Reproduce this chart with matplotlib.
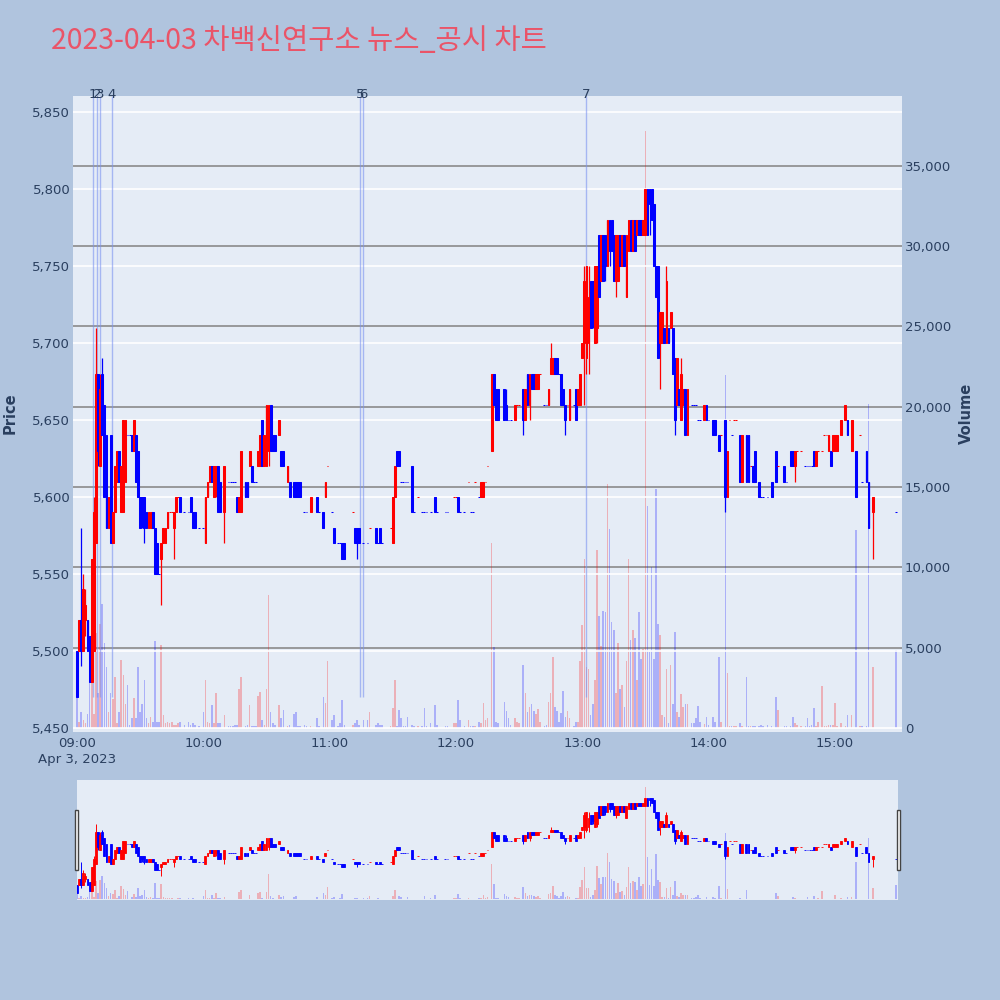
import numpy as np
import matplotlib.pyplot as plt
from matplotlib.patches import Rectangle

plt.rcParams['font.family'] = ['DejaVu Sans']

TITLE = "2023-04-03 차백신연구소 뉴스_공시 차트"

# minutes after 09:00, one candle per traded minute
minute = [
    0, 1, 2, 3, 4, 5, 6, 7, 8, 9,
    10, 11, 12, 13, 14, 15, 16, 17, 18, 19,
    20, 21, 22, 23, 24, 25, 26, 27, 28, 29,
    30, 31, 32, 33, 34, 35, 36, 37, 38, 39,
    40, 41, 42, 43, 44, 45, 46, 47, 48, 49,
    51, 53, 54, 55, 56, 58, 60, 61, 62, 63,
    64, 65, 66, 67, 68, 70, 72, 73, 74, 75,
    76, 77, 78, 80, 81, 82, 83, 84, 85, 86,
    87, 88, 89, 90, 91, 92, 93, 94, 96, 97,
    98, 100, 101, 103, 104, 105, 106, 108, 109, 111,
    114, 115, 117, 118, 119, 121, 122, 124, 125, 126,
    127, 131, 132, 133, 134, 136, 138, 139, 142, 143,
    144, 145, 149, 150, 151, 152, 153, 154, 155, 156,
    157, 159, 160, 162, 164, 165, 166, 168, 170, 171,
    175, 176, 179, 180, 181, 182, 184, 186, 187, 188,
    189, 191, 192, 193, 194, 195, 197, 198, 199, 200,
    203, 204, 205, 206, 208, 209, 210, 212, 213, 214,
    215, 216, 217, 218, 219, 220, 222, 223, 224, 225,
    226, 227, 228, 229, 230, 231, 232, 233, 234, 236,
    237, 238, 239, 240, 241, 242, 243, 244, 245, 246,
    247, 248, 249, 250, 251, 252, 253, 254, 255, 256,
    257, 258, 259, 260, 261, 262, 263, 264, 265, 266,
    267, 268, 269, 270, 271, 272, 273, 274, 275, 276,
    277, 278, 279, 280, 281, 282, 283, 284, 285, 286,
    287, 288, 289, 290, 292, 293, 294, 295, 296, 298,
    299, 300, 302, 303, 305, 306, 308, 309, 310, 311,
    312, 313, 315, 316, 318, 319, 320, 321, 322, 324,
    325, 326, 328, 330, 332, 333, 336, 337, 339, 340,
    341, 342, 344, 346, 347, 348, 349, 350, 351, 352,
    354, 355, 356, 357, 358, 359, 360, 361, 363, 365,
    366, 368, 370, 372, 373, 375, 376, 378, 389,
]

open_ = [
    5500, 5500, 5520, 5500, 5520, 5520, 5510, 5480, 5500, 5570,
    5680, 5620, 5680, 5660, 5640, 5580, 5640, 5570, 5590, 5610,
    5630, 5590, 5590, 5610, 5640, 5640, 5640, 5630, 5640, 5630,
    5600, 5600, 5600, 5590, 5580, 5580, 5590, 5580, 5570, 5550,
    5560, 5570, 5570, 5580, 5590, 5590, 5580, 5590, 5600, 5600,
    5590, 5590, 5600, 5590, 5590, 5580, 5580, 5570, 5600, 5610,
    5620, 5600, 5610, 5620, 5610, 5590, 5610, 5610, 5610, 5610,
    5600, 5590, 5590, 5610, 5610, 5620, 5620, 5610, 5610, 5620,
    5620, 5650, 5620, 5620, 5630, 5660, 5640, 5640, 5640, 5630,
    5630, 5610, 5610, 5610, 5610, 5610, 5610, 5590, 5590, 5590,
    5600, 5590, 5590, 5600, 5620, 5590, 5580, 5570, 5570, 5570,
    5570, 5590, 5580, 5580, 5580, 5570, 5570, 5580, 5580, 5570,
    5580, 5570, 5580, 5570, 5600, 5630, 5630, 5610, 5610, 5610,
    5610, 5620, 5590, 5600, 5590, 5590, 5590, 5590, 5600, 5590,
    5590, 5590, 5600, 5600, 5600, 5590, 5590, 5610, 5590, 5590,
    5610, 5600, 5600, 5600, 5610, 5620, 5630, 5680, 5670, 5670,
    5670, 5660, 5650, 5650, 5650, 5660, 5660, 5670, 5650, 5680,
    5660, 5680, 5680, 5670, 5670, 5680, 5660, 5660, 5660, 5680,
    5680, 5690, 5690, 5680, 5680, 5670, 5660, 5660, 5650, 5660,
    5670, 5660, 5660, 5690, 5700, 5690, 5700, 5740, 5740, 5700,
    5710, 5770, 5740, 5770, 5770, 5750, 5780, 5780, 5770, 5740,
    5740, 5770, 5750, 5770, 5730, 5760, 5780, 5760, 5780, 5770,
    5780, 5780, 5770, 5770, 5800, 5800, 5800, 5790, 5750, 5750,
    5700, 5700, 5710, 5700, 5710, 5710, 5710, 5690, 5660, 5670,
    5650, 5660, 5670, 5640, 5660, 5660, 5660, 5650, 5650, 5650,
    5660, 5650, 5650, 5650, 5640, 5640, 5650, 5600, 5650, 5640,
    5650, 5650, 5640, 5610, 5640, 5640, 5620, 5620, 5630, 5610,
    5600, 5600, 5600, 5610, 5630, 5620, 5620, 5610, 5630, 5630,
    5620, 5630, 5630, 5620, 5620, 5620, 5620, 5630, 5620, 5630,
    5630, 5640, 5640, 5630, 5630, 5630, 5630, 5630, 5640, 5650,
    5650, 5630, 5630, 5640, 5610, 5630, 5610, 5590, 5590,
]

high = [
    5500, 5520, 5580, 5550, 5540, 5520, 5510, 5560, 5600, 5710,
    5680, 5680, 5690, 5660, 5640, 5600, 5640, 5590, 5620, 5630,
    5630, 5620, 5650, 5650, 5640, 5640, 5640, 5650, 5640, 5630,
    5600, 5600, 5600, 5590, 5590, 5590, 5590, 5580, 5570, 5550,
    5570, 5580, 5580, 5590, 5590, 5590, 5590, 5600, 5600, 5600,
    5590, 5590, 5600, 5590, 5590, 5580, 5580, 5600, 5610, 5620,
    5620, 5620, 5620, 5620, 5610, 5620, 5610, 5610, 5610, 5610,
    5600, 5600, 5630, 5610, 5610, 5630, 5620, 5610, 5610, 5630,
    5640, 5650, 5640, 5660, 5660, 5660, 5640, 5640, 5650, 5630,
    5630, 5620, 5610, 5610, 5610, 5610, 5610, 5590, 5590, 5600,
    5600, 5590, 5590, 5610, 5620, 5590, 5580, 5570, 5570, 5570,
    5570, 5590, 5580, 5580, 5580, 5570, 5570, 5580, 5580, 5570,
    5580, 5570, 5580, 5600, 5620, 5630, 5630, 5610, 5610, 5610,
    5610, 5620, 5590, 5600, 5590, 5590, 5590, 5590, 5600, 5590,
    5590, 5590, 5600, 5600, 5600, 5590, 5590, 5610, 5590, 5590,
    5610, 5600, 5610, 5610, 5610, 5620, 5680, 5680, 5670, 5670,
    5670, 5670, 5650, 5650, 5660, 5660, 5660, 5670, 5670, 5680,
    5680, 5680, 5680, 5680, 5680, 5680, 5660, 5660, 5670, 5700,
    5690, 5690, 5690, 5680, 5680, 5670, 5660, 5660, 5670, 5660,
    5670, 5670, 5680, 5700, 5750, 5750, 5750, 5740, 5740, 5750,
    5750, 5770, 5770, 5770, 5770, 5780, 5780, 5780, 5770, 5770,
    5770, 5770, 5770, 5770, 5770, 5780, 5780, 5780, 5780, 5780,
    5780, 5780, 5780, 5800, 5800, 5800, 5800, 5790, 5750, 5750,
    5720, 5720, 5710, 5750, 5710, 5720, 5710, 5690, 5690, 5670,
    5690, 5670, 5670, 5670, 5660, 5660, 5660, 5650, 5650, 5660,
    5660, 5650, 5650, 5650, 5640, 5640, 5650, 5630, 5650, 5640,
    5650, 5650, 5640, 5640, 5640, 5640, 5620, 5620, 5630, 5610,
    5600, 5600, 5600, 5610, 5630, 5620, 5620, 5610, 5630, 5630,
    5630, 5630, 5630, 5620, 5620, 5620, 5620, 5630, 5630, 5630,
    5630, 5640, 5640, 5640, 5630, 5640, 5640, 5640, 5650, 5660,
    5650, 5650, 5630, 5640, 5610, 5630, 5610, 5600, 5590,
]

low = [
    5470, 5500, 5490, 5500, 5510, 5500, 5480, 5480, 5500, 5570,
    5620, 5620, 5640, 5600, 5580, 5580, 5570, 5570, 5590, 5610,
    5610, 5590, 5590, 5610, 5640, 5640, 5630, 5630, 5610, 5600,
    5580, 5580, 5570, 5580, 5580, 5580, 5580, 5550, 5550, 5550,
    5530, 5570, 5570, 5580, 5590, 5590, 5560, 5590, 5600, 5590,
    5590, 5590, 5590, 5580, 5580, 5580, 5580, 5570, 5600, 5610,
    5610, 5600, 5600, 5590, 5590, 5570, 5610, 5610, 5610, 5610,
    5590, 5590, 5590, 5600, 5600, 5620, 5610, 5610, 5610, 5620,
    5620, 5620, 5620, 5620, 5620, 5630, 5630, 5630, 5640, 5620,
    5620, 5610, 5600, 5600, 5600, 5600, 5600, 5590, 5590, 5590,
    5590, 5590, 5580, 5600, 5620, 5590, 5570, 5570, 5570, 5560,
    5560, 5590, 5570, 5560, 5570, 5570, 5570, 5580, 5570, 5570,
    5570, 5570, 5580, 5570, 5600, 5620, 5620, 5610, 5610, 5610,
    5610, 5590, 5590, 5600, 5590, 5590, 5590, 5590, 5590, 5590,
    5590, 5590, 5600, 5600, 5590, 5590, 5590, 5610, 5590, 5590,
    5610, 5600, 5600, 5600, 5610, 5620, 5630, 5660, 5650, 5650,
    5650, 5650, 5650, 5650, 5650, 5660, 5660, 5640, 5650, 5660,
    5650, 5670, 5670, 5670, 5670, 5680, 5660, 5660, 5660, 5680,
    5680, 5680, 5680, 5680, 5660, 5660, 5640, 5660, 5650, 5660,
    5650, 5660, 5660, 5690, 5660, 5680, 5680, 5710, 5710, 5700,
    5700, 5730, 5740, 5740, 5740, 5750, 5750, 5760, 5740, 5730,
    5740, 5750, 5750, 5750, 5730, 5760, 5760, 5760, 5760, 5770,
    5770, 5770, 5770, 5770, 5770, 5770, 5780, 5750, 5730, 5690,
    5670, 5700, 5700, 5700, 5700, 5710, 5680, 5640, 5660, 5660,
    5650, 5660, 5640, 5640, 5660, 5660, 5660, 5650, 5650, 5650,
    5650, 5650, 5640, 5640, 5630, 5640, 5590, 5600, 5650, 5640,
    5650, 5650, 5610, 5610, 5610, 5610, 5620, 5610, 5610, 5600,
    5600, 5600, 5600, 5600, 5610, 5620, 5610, 5610, 5620, 5620,
    5610, 5630, 5630, 5620, 5620, 5620, 5620, 5620, 5620, 5630,
    5630, 5640, 5640, 5630, 5620, 5630, 5630, 5630, 5640, 5650,
    5640, 5630, 5600, 5640, 5610, 5610, 5580, 5560, 5590,
]

close = [
    5470, 5520, 5500, 5540, 5530, 5500, 5480, 5560, 5590, 5680,
    5630, 5670, 5640, 5600, 5580, 5600, 5570, 5590, 5620, 5630,
    5610, 5620, 5650, 5650, 5640, 5640, 5630, 5650, 5610, 5600,
    5580, 5590, 5580, 5580, 5590, 5590, 5580, 5550, 5550, 5550,
    5570, 5580, 5580, 5590, 5590, 5590, 5590, 5600, 5600, 5590,
    5590, 5590, 5590, 5580, 5580, 5580, 5580, 5600, 5610, 5620,
    5610, 5620, 5620, 5590, 5590, 5620, 5610, 5610, 5610, 5610,
    5590, 5600, 5630, 5600, 5600, 5630, 5610, 5610, 5610, 5630,
    5640, 5620, 5640, 5660, 5660, 5630, 5630, 5630, 5650, 5620,
    5620, 5620, 5600, 5600, 5600, 5600, 5600, 5590, 5590, 5600,
    5590, 5590, 5580, 5610, 5620, 5590, 5570, 5570, 5570, 5560,
    5560, 5590, 5570, 5570, 5570, 5570, 5570, 5580, 5570, 5570,
    5570, 5570, 5580, 5600, 5620, 5620, 5620, 5610, 5610, 5610,
    5610, 5590, 5590, 5600, 5590, 5590, 5590, 5590, 5590, 5590,
    5590, 5590, 5600, 5600, 5590, 5590, 5590, 5610, 5590, 5590,
    5610, 5600, 5610, 5610, 5610, 5620, 5680, 5660, 5650, 5650,
    5650, 5650, 5650, 5650, 5660, 5660, 5660, 5650, 5670, 5660,
    5680, 5670, 5670, 5680, 5680, 5680, 5660, 5660, 5670, 5690,
    5690, 5680, 5680, 5680, 5660, 5660, 5650, 5660, 5670, 5660,
    5650, 5670, 5680, 5700, 5740, 5750, 5730, 5710, 5720, 5750,
    5750, 5730, 5770, 5740, 5750, 5780, 5760, 5760, 5740, 5770,
    5770, 5750, 5770, 5750, 5770, 5780, 5760, 5780, 5760, 5780,
    5770, 5770, 5780, 5800, 5770, 5790, 5780, 5750, 5730, 5690,
    5720, 5720, 5700, 5740, 5700, 5720, 5680, 5650, 5690, 5660,
    5680, 5670, 5640, 5670, 5660, 5660, 5660, 5650, 5650, 5660,
    5650, 5650, 5640, 5640, 5630, 5640, 5600, 5630, 5650, 5640,
    5650, 5650, 5610, 5640, 5610, 5610, 5620, 5610, 5610, 5600,
    5600, 5600, 5600, 5600, 5610, 5620, 5610, 5610, 5620, 5620,
    5630, 5630, 5630, 5620, 5620, 5620, 5620, 5620, 5630, 5630,
    5630, 5640, 5640, 5640, 5620, 5640, 5640, 5640, 5650, 5660,
    5640, 5650, 5600, 5640, 5610, 5610, 5580, 5600, 5590,
]

volume = [
    1850, 400, 1000, 500, 300, 900, 2800, 2800, 900, 5900,
    2150, 6500, 7700, 5300, 3800, 1000, 2150, 1800, 3200, 300,
    1000, 4250, 3300, 1500, 2700, 200, 600, 1850, 600, 3800,
    1000, 1500, 3000, 600, 300, 700, 400, 5400, 400, 400,
    5150, 800, 300, 400, 300, 400, 200, 200, 300, 400,
    200, 400, 200, 300, 200, 100, 1000, 3000, 400, 300,
    1450, 300, 2150, 300, 300, 800, 100, 100, 100, 200,
    200, 2400, 3200, 100, 200, 1450, 100, 100, 100, 2000,
    2250, 500, 200, 2450, 8300, 1000, 300, 200, 1450, 600,
    1100, 100, 200, 900, 1000, 100, 100, 200, 100, 100,
    600, 100, 1950, 1550, 4150, 500, 800, 100, 300, 1750,
    200, 200, 300, 500, 200, 500, 500, 1000, 200, 300,
    200, 200, 100, 1230, 3000, 100, 1100, 600, 100, 100,
    700, 200, 100, 100, 100, 1230, 100, 300, 1450, 200,
    100, 100, 300, 300, 1750, 500, 100, 500, 100, 100,
    100, 400, 300, 1550, 500, 600, 11500, 5050, 370, 300,
    1600, 1060, 600, 200, 600, 400, 300, 3950, 2200, 1000,
    1300, 1500, 1060, 900, 1200, 400, 100, 200, 1600, 2200,
    4400, 1300, 1060, 400, 950, 2300, 700, 1060, 600, 150,
    350, 400, 4200, 6400, 10500, 3800, 3700, 800, 1500, 3000,
    11100, 7000, 5100, 7300, 7200, 15200, 12400, 6600, 6100, 2200,
    5300, 2400, 2700, 1300, 4200, 10500, 5450, 6100, 5600, 3000,
    7200, 4300, 4900, 37200, 13800, 4750, 10000, 4300, 14900, 6500,
    5800, 800, 700, 3700, 300, 3950, 1500, 6000, 1000, 700,
    2100, 1300, 1500, 1500, 300, 300, 650, 1400, 350, 250,
    700, 200, 700, 350, 4400, 350, 22000, 3400, 150, 100,
    100, 100, 300, 100, 3150, 100, 100, 150, 150, 100,
    200, 100, 200, 100, 1950, 1100, 100, 100, 100, 700,
    300, 200, 100, 100, 600, 100, 200, 1230, 100, 400,
    2600, 100, 100, 200, 200, 200, 1540, 100, 300, 100,
    800, 800, 12350, 100, 100, 100, 20150, 3800, 4870,
]

# news / disclosure markers
news_minute = [7.6, 9.5, 10.9, 16.6, 134.4, 135.9, 241.8]
news_label = ["1", "2", "3", "4", "5", "6", "7"]

price_ticks = [5450, 5500, 5550, 5600, 5650, 5700, 5750, 5800, 5850]
volume_ticks = [0, 5000, 10000, 15000, 20000, 25000, 30000, 35000]
hour_ticks = [0, 60, 120, 180, 240, 300, 360]
hour_labels = ["09:00\nApr 3, 2023", "10:00", "11:00", "12:00", "13:00", "14:00", "15:00"]

PRICE_LIM = (5447.6, 5860.4)
VOL_LIM = (-230, 39350)
RED, BLUE = "#FF0000", "#0000FF"
TXT = "#2a3f5f"
BG = "#B0C4DE"
PLOT_BG = "#E5ECF6"

# plotly style direction: flat candles follow the previous close
up = []
prev_c, prev_up = None, True
for o, c in zip(open_, close):
    if c != o:
        d = c > o
    elif prev_c is None or c == prev_c:
        d = prev_up
    else:
        d = c > prev_c
    up.append(d)
    prev_c, prev_up = c, d
cols = [RED if u else BLUE for u in up]

m = np.array(minute)
o = np.array(open_)
c = np.array(close)


def draw(ax_v, ax_p, width, edge_lw, wick_lw):
    ax_v.bar(m, volume, width=0.75, color=cols, alpha=0.25, linewidth=0, zorder=2)
    ax_p.vlines(m, low, high, colors=cols, linewidth=wick_lw, zorder=4)
    ax_p.bar(m, np.abs(c - o), bottom=np.minimum(o, c), width=width, color=cols,
             edgecolor=cols, linewidth=edge_lw, zorder=5)


fig = plt.figure(figsize=(10, 10), dpi=100)
fig.patch.set_facecolor(BG)

# main chart: volume axes underneath, price axes on top
ax_v = fig.add_axes([0.073, 0.2683, 0.829, 0.6357])
ax_v.set_facecolor(PLOT_BG)
ax_p = ax_v.twinx()
ax_p.set_zorder(ax_v.get_zorder() + 1)
ax_p.patch.set_visible(False)

draw(ax_v, ax_p, 0.85, 0.75, 0.9)

ax_v.set_xlim(-1.9, 391.9)
ax_v.set_ylim(*VOL_LIM)
ax_p.set_ylim(*PRICE_LIM)

for vt in volume_ticks[1:]:
    ax_v.axhline(vt, color="#8a8a8a", linewidth=1.2, zorder=1)
for pt in price_ticks:
    ax_p.axhline(pt, color="white", linewidth=1.2, zorder=1)

ax_p.vlines(news_minute, 5470, PRICE_LIM[1], colors="#7b93f0", alpha=0.6, linewidth=1.0, zorder=3)
for nm, lab in zip(news_minute, news_label):
    ax_p.text(nm, PRICE_LIM[1] + 1, lab, ha="center", va="center", fontsize=9.5,
              color=TXT, clip_on=False, zorder=6)

ax_p.yaxis.tick_left()
ax_v.yaxis.tick_right()
ax_p.set_yticks(price_ticks)
ax_p.set_yticklabels([f"{v:,}" for v in price_ticks])
ax_v.set_yticks(volume_ticks)
ax_v.set_yticklabels([f"{v:,}" for v in volume_ticks])
ax_v.set_xticks(hour_ticks)
ax_v.set_xticklabels(hour_labels, linespacing=1.25)
for ax in (ax_v, ax_p):
    ax.tick_params(length=0, labelsize=9.5, labelcolor=TXT, pad=2)
    for s in ax.spines.values():
        s.set_visible(False)
ax_v.tick_params(axis="x", pad=4)

fig.text(0.010, 0.587, "Price", rotation=90, ha="center", va="center",
         fontsize=10.5, fontweight="bold", color=TXT)
fig.text(0.966, 0.587, "Volume", rotation=90, ha="center", va="center",
         fontsize=10.5, fontweight="bold", color=TXT)

fig.text(0.051, 0.959, TITLE, ha="left", va="center", fontsize=20.5, color="#EA5468",
         family=["Noto Sans CJK KR", "DejaVu Sans"])

# range slider
rs_v = fig.add_axes([0.077, 0.10, 0.821, 0.12])
rs_v.set_facecolor(PLOT_BG)
rs_p = rs_v.twinx()
rs_p.set_zorder(rs_v.get_zorder() + 1)
rs_p.patch.set_visible(False)
draw(rs_v, rs_p, 0.9, 0.6, 0.7)
rs_v.set_xlim(0, 390)
rs_v.set_ylim(*VOL_LIM)
rs_p.set_ylim(*PRICE_LIM)
for ax in (rs_v, rs_p):
    ax.set_xticks([])
    ax.set_yticks([])
    for s in ax.spines.values():
        s.set_visible(False)

for hx in (0.0745, 0.8965):
    fig.patches.append(Rectangle((hx, 0.13), 0.0035, 0.06, transform=fig.transFigure,
                                 facecolor="white", edgecolor="#444444", linewidth=1.0))

fig.savefig("out.png", dpi=100, facecolor=BG)
